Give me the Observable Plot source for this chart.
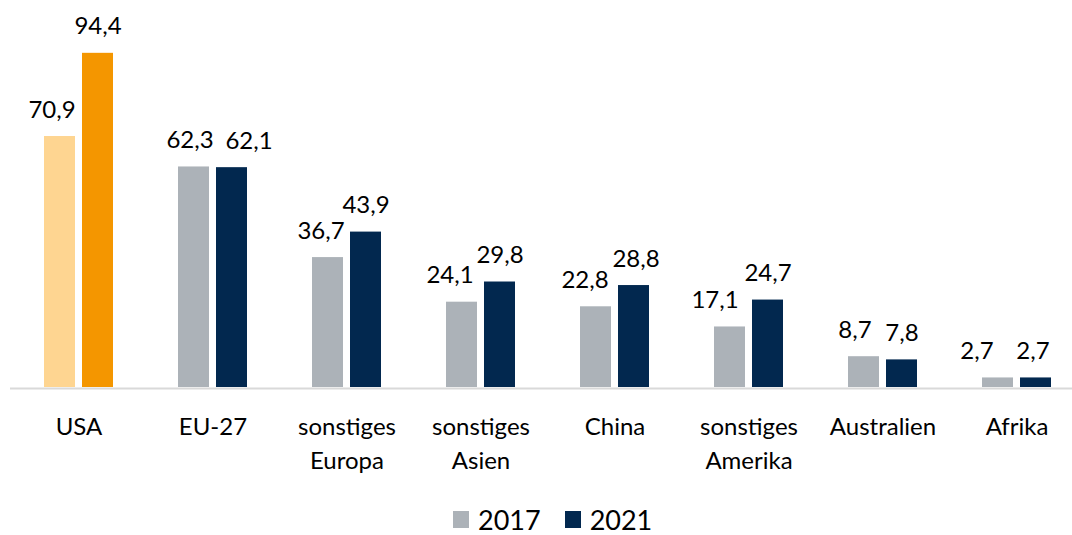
<!DOCTYPE html>
<html>
<head>
<meta charset="utf-8">
<script src="https://cdn.jsdelivr.net/npm/d3@7"></script>
<script src="https://cdn.jsdelivr.net/npm/@observablehq/plot@0.6"></script>
<style>
  html, body { margin: 0; padding: 0; background: #fff; overflow: hidden; }
  body { position: relative; width: 1072px; height: 535px; }
  #chart svg { display: block; }
  #legend { position: absolute; left: 453px; top: 506px; height: 27px; line-height: 27px;
            display: flex; align-items: center;
            font-family: Lato, "Open Sans", sans-serif; font-size: 27px; color: #000; }
  #legend .item { display: flex; align-items: center; margin-right: 24px; }
  #legend .sw { width: 16px; height: 17px; margin-right: 9px; }
</style>
</head>
<body>
<div id="chart"></div>
<div id="legend"></div>
<script>
const regions = ["USA", "EU-27", "sonstiges\nEuropa", "sonstiges\nAsien", "China", "sonstiges\nAmerika", "Australien", "Afrika"];
const values2017 = [70.9, 62.3, 36.7, 24.1, 22.8, 17.1, 8.7, 2.7];
const values2021 = [94.4, 62.1, 43.9, 29.8, 28.8, 24.7, 7.8, 2.7];
const years = ["2017", "2021"];

// small horizontal nudges (px) of the value labels, as in the original chart
const labelNudge2017 = [-8, -4, -7, -12, -11, -15, -9, -21];
const labelNudge2021 = [0, 17, 0, 0, 2, 0, 0, -3];

const colors = { "2017": "#ACB2B8", "2021": "#02284F" };
const usaColors = { "2017": "#FED591", "2021": "#F49600" };

const d17 = regions.map((r, i) => ({ region: r, year: "2017", value: values2017[i] }));
const d21 = regions.map((r, i) => ({ region: r, year: "2021", value: values2021[i] }));
const fillOf = d => d.region === "USA" ? usaColors[d.year] : colors[d.year];
const fmt = v => v.toFixed(1).replace(".", ",");

const font = "Lato, 'Open Sans', sans-serif";
const inset = 38, off = 19;

const labelMarks = [
  ...d17.map((d, i) => Plot.text([d], { x: "region", y: "value", text: d => fmt(d.value),
      dx: -off + labelNudge2017[i], dy: -19, lineAnchor: "bottom", fontSize: 24, fill: "#000" })),
  ...d21.map((d, i) => Plot.text([d], { x: "region", y: "value", text: d => fmt(d.value),
      dx: off + labelNudge2021[i], dy: -19, lineAnchor: "bottom", fontSize: 24, fill: "#000" }))
];

const chart = Plot.plot({
  width: 1072,
  height: 495,
  marginLeft: 10,
  marginRight: -13.5,
  marginTop: 33,
  marginBottom: 108,
  style: { fontFamily: font, background: "#fff", color: "#000" },
  x: { domain: regions, paddingInner: 0.487, paddingOuter: 0.2435, axis: null },
  y: { domain: [0, 100], axis: null },
  marks: [
    Plot.ruleY([0], { stroke: "#D9D9D9", strokeWidth: 2, dy: 1 }),
    Plot.barY(d17, { x: "region", y: "value", fill: fillOf, insetRight: inset }),
    Plot.barY(d21, { x: "region", y: "value", fill: fillOf, insetLeft: inset }),
    ...labelMarks,
    Plot.axisX({ tickSize: 0, tickPadding: 23, fontSize: 24, lineHeight: 1.42, fill: "#000", label: null })
  ]
});
document.getElementById("chart").append(chart);

const legend = document.getElementById("legend");
years.forEach(y => {
  const item = document.createElement("div");
  item.className = "item";
  const sw = document.createElement("span");
  sw.className = "sw";
  sw.style.background = colors[y];
  const t = document.createElement("span");
  t.textContent = y;
  item.append(sw, t);
  legend.append(item);
});
</script>
</body>
</html>
